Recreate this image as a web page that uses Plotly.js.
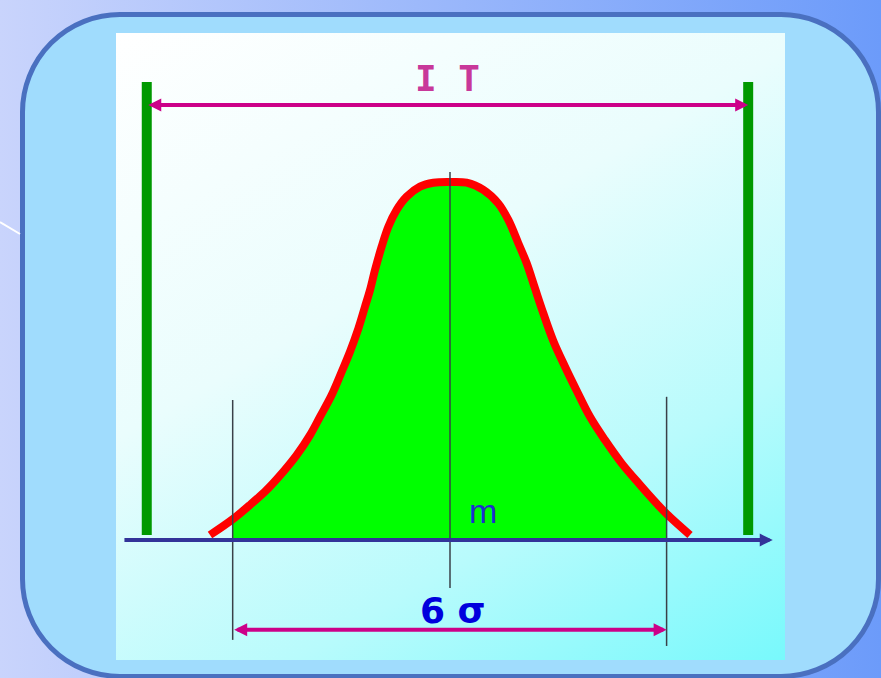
<!DOCTYPE html>
<html><head><meta charset="utf-8">
<script src="https://cdn.plot.ly/plotly-3.0.1.min.js"></script>
<style>
html,body{margin:0;padding:0;width:881px;height:678px;overflow:hidden;}
#bg{position:absolute;left:0;top:0;width:881px;height:678px;background:linear-gradient(90deg,#c9d4fc 0%,#6c9bfa 100%);}
#box{position:absolute;left:20px;top:12px;width:861px;height:667px;box-sizing:border-box;border:5px solid #4a70c0;border-radius:100px;background:#a0dcfd;}
#panel{position:absolute;left:116px;top:33px;width:669px;height:627px;background:linear-gradient(150deg,#ffffff 0%,#eafdfd 40%,#b8fbfc 72%,#78f9fc 100%);}
#chart{position:absolute;left:0;top:0;width:881px;height:678px;}
</style></head>
<body>
<div id="bg"></div><div id="box"></div><div id="panel"></div>
<div id="chart"></div>
<script>
// Distribution curve, x in sigma units around the mean m, y relative to peak
const curveX = [-3.324,-3.010,-2.770,-2.539,-2.308,-2.124,-1.939,-1.801,-1.639,-1.500,-1.385,-1.269,-1.177,-1.108,-1.039,-0.947,-0.854,-0.739,-0.600,-0.416,-0.231,0.000,
                0.231,0.462,0.669,0.808,0.946,1.062,1.177,1.293,1.431,1.593,1.755,1.939,2.147,2.378,2.632,2.862,3.000,3.324];
const curveY = [0.014,0.058,0.098,0.140,0.191,0.237,0.293,0.344,0.405,0.470,0.526,0.591,0.652,0.698,0.754,0.819,0.875,0.922,0.959,0.987,0.998,1.000,
                0.998,0.978,0.940,0.894,0.829,0.773,0.703,0.633,0.556,0.484,0.417,0.344,0.279,0.214,0.154,0.102,0.073,0.014];
// limits
const sigmaLimits = [-3.01, 3.00];     // m - 3σ, m + 3σ
const toleranceLimits = [-4.20, 4.13]; // LSL, USL (interval IT)
const meanValue = 0;
// labels
const labelIT = 'I T';
const labelSigma = '6 σ';
const labelMean = 'm';

const fillX = [], fillY = [];
curveX.forEach((x,i)=>{ if (x>=sigmaLimits[0] && x<=sigmaLimits[1]) { fillX.push(x); fillY.push(curveY[i]); } });

const traces = [
  {x: fillX, y: fillY, mode:'lines', fill:'tozeroy', fillcolor:'#00ff00', line:{width:0, shape:'spline', smoothing:1}, hoverinfo:'skip'},
  {x: curveX, y: curveY, mode:'lines', line:{color:'#ff0000', width:8, shape:'spline', smoothing:1}, hoverinfo:'skip'},
  {x:[toleranceLimits[0],toleranceLimits[0]], y:[0.014,1.279], mode:'lines', line:{color:'#009900', width:10}, hoverinfo:'skip'},
  {x:[toleranceLimits[1],toleranceLimits[1]], y:[0.014,1.279], mode:'lines', line:{color:'#009900', width:10}, hoverinfo:'skip'},
  {x:[sigmaLimits[0],sigmaLimits[0]], y:[0.391,-0.279], mode:'lines', line:{color:'#3a4048', width:1.5}, hoverinfo:'skip'},
  {x:[sigmaLimits[1],sigmaLimits[1]], y:[0.40,-0.296], mode:'lines', line:{color:'#3a4048', width:1.5}, hoverinfo:'skip'},
  {x:[meanValue,meanValue], y:[1.028,-0.134], mode:'lines', line:{color:'#3a4048', width:1.5}, hoverinfo:'skip'}
];

const arrow = (x0,y0,x1,y1,color,both)=>({
  x:x1, y:y1, ax:x0, ay:y0, xref:'x', yref:'y', axref:'x', ayref:'y', text:'', showarrow:true,
  arrowhead:2, arrowsize:0.65, arrowwidth:4, arrowcolor:color,
  startarrowhead:2, startarrowsize:0.65, arrowside: both ? 'end+start' : 'end'
});

const annotations = [
  arrow(toleranceLimits[0],1.215,toleranceLimits[1],1.215,'#cc0088',true),
  arrow(sigmaLimits[0],-0.251,sigmaLimits[1],-0.251,'#cc0088',true),
  arrow(-4.53,0,4.47,0,'#333399',false),
  {x:-0.04, y:1.288, xref:'x', yref:'y', text:labelIT, showarrow:false,
   font:{family:'DejaVu Sans Mono', size:36, color:'#c8389a', weight:'bold'}},
  {x:0.04, y:-0.198, xref:'x', yref:'y', text:'<b>'+labelSigma+'</b>', showarrow:false,
   font:{family:'DejaVu Sans', size:36, color:'#0000dd'}},
  {x:0.457, y:0.081, xref:'x', yref:'y', text:labelMean, showarrow:false,
   font:{family:'Liberation Sans', size:34, color:'#1e2ed0'}}
];

const layout = {
  width:881, height:678, margin:{l:0,r:0,t:0,b:0},
  paper_bgcolor:'rgba(0,0,0,0)', plot_bgcolor:'rgba(0,0,0,0)',
  showlegend:false,
  xaxis:{range:[-6.2327,5.9695], visible:false, fixedrange:true},
  yaxis:{range:[-0.38547,1.50838], visible:false, fixedrange:true},
  annotations: annotations,
  shapes:[{type:'line', xref:'paper', yref:'paper', x0:0, x1:20/881, y0:1-222/678, y1:1-234/678, line:{color:'#ffffff', width:2}}]
};
Plotly.newPlot('chart', traces, layout, {displayModeBar:false, staticPlot:true});
</script>
</body></html>
